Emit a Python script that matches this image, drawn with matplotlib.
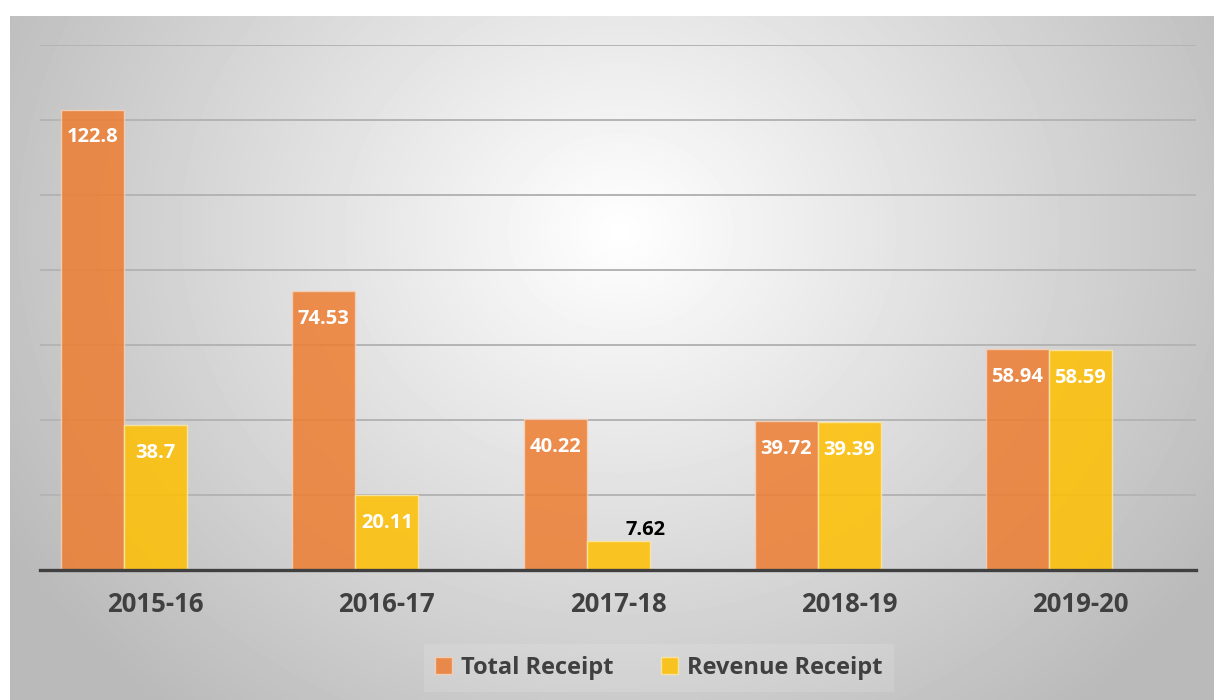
import matplotlib.pyplot as plt
import numpy as np

years = ["2015-16", "2016-17", "2017-18", "2018-19", "2019-20"]
total_receipt = [122.8, 74.53, 40.22, 39.72, 58.94]
revenue_receipt = [38.7, 20.11, 7.62, 39.39, 58.59]

plt.rcParams['font.family'] = ['Open Sans', 'DejaVu Sans']

fig = plt.figure(figsize=(12.14, 7), dpi=100)

# radial grey background panel
bg = fig.add_axes([10 / 1214, 0, 1 - 10 / 1214, (700 - 16) / 700])
bg.set_axis_off()
H, W = 684, 1204
yy, xx = np.mgrid[0:H, 0:W]
r = np.sqrt(((xx - 610) / 640.0) ** 2 + ((yy - 215) / 560.0) ** 2)
val = np.clip(1 - 0.245 * r, 0.73, 1)
bg.imshow(val, cmap='gray', vmin=0, vmax=1, aspect='auto', interpolation='bilinear')

ax = fig.add_axes([40 / 1214, 130 / 700, 1156 / 1214, 525 / 700])
ax.patch.set_alpha(0)

x = np.arange(len(years))
w = 189 / 231.2 / 3
orange = '#ED7D31'
yellow = '#FFC000'

b1 = ax.bar(x - w, total_receipt, w, color=orange, alpha=0.85, edgecolor='#f6d2bb',
            linewidth=1, label='Total Receipt', zorder=3)
b2 = ax.bar(x, revenue_receipt, w, color=yellow, alpha=0.85, edgecolor='#fbe7a8',
            linewidth=1, label='Revenue Receipt', zorder=3)

for bars, vals in [(b1, total_receipt), (b2, revenue_receipt)]:
    for b, v in zip(bars, vals):
        cx = b.get_x() + b.get_width() / 2
        if v < 15:
            ax.annotate(f"{v:g}", (cx, v), xytext=(28, 1), textcoords='offset pixels',
                        ha='center', va='bottom', fontsize=14.5, fontweight='bold',
                        color='black', zorder=5)
        else:
            ax.annotate(f"{v:g}", (cx, v), xytext=(0, -28), textcoords='offset pixels',
                        ha='center', va='center', fontsize=14.5, fontweight='bold',
                        color='white', zorder=5)

ax.set_xlim(-0.5, 4.5)
ax.set_ylim(0, 140)
ax.set_yticks(np.arange(0, 141, 20))
ax.yaxis.grid(True, color='#b4b4b4', linewidth=1.4, zorder=0)
ax.set_axisbelow(True)
ax.tick_params(axis='y', left=False, labelleft=False)
ax.set_xticks(x)
ax.set_xticklabels(years, fontsize=18.5, fontweight='bold', color='#404040')
ax.tick_params(axis='x', length=0, pad=15)
for s in ['top', 'right', 'left']:
    ax.spines[s].set_visible(False)
ax.spines['bottom'].set_color('#404040')
ax.spines['bottom'].set_linewidth(2.4)
ax.spines['bottom'].set_zorder(4)

leg = fig.legend(handles=[b1, b2], loc='center', bbox_to_anchor=(659 / 1214, 32 / 700),
                 ncol=2, frameon=True, fontsize=17, handlelength=0.7, handleheight=0.7,
                 handletextpad=0.4, columnspacing=2.0, borderpad=0.5)
leg.get_frame().set_facecolor('white')
leg.get_frame().set_alpha(0.12)
leg.get_frame().set_edgecolor('none')
leg.get_frame().set_boxstyle('square', pad=0)
for t in leg.get_texts():
    t.set_fontweight('bold')
    t.set_color('#404040')

fig.savefig('out.png', dpi=100)
